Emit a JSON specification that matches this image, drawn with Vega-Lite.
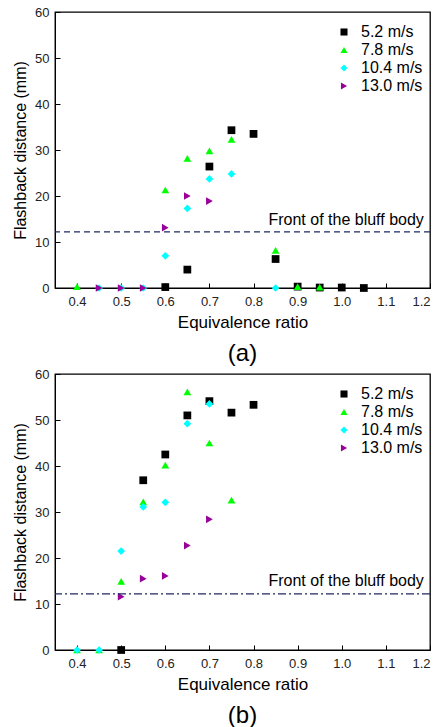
{
  "$schema": "https://vega.github.io/schema/vega-lite/v6.json",
  "padding": {"left": 11, "top": 5, "right": 5, "bottom": 0},
  "spacing": 0,
  "config": {
    "font": "Liberation Sans",
    "view": {"stroke": "black", "strokeWidth": 1.3},
    "axis": {"grid": false, "domainColor": "black", "tickColor": "black", "tickSize": -5, "labelColor": "#222", "titleColor": "black", "titleFontWeight": "normal", "labelFontSize": 13},
    "legend": {"orient": "none", "legendX": 281, "legendY": 12, "title": null, "padding": 0, "labelFontSize": 16, "labelOffset": 9, "rowPadding": 2, "symbolSize": 50, "labelColor": "black"}
  },
  "datasets": {
    "pts": [
      {"panel": "a", "speed": "5.2 m/s", "phi": 0.6, "d": 0.2},
      {"panel": "a", "speed": "5.2 m/s", "phi": 0.65, "d": 4.0},
      {"panel": "a", "speed": "5.2 m/s", "phi": 0.7, "d": 26.4},
      {"panel": "a", "speed": "5.2 m/s", "phi": 0.75, "d": 34.3},
      {"panel": "a", "speed": "5.2 m/s", "phi": 0.8, "d": 33.5},
      {"panel": "a", "speed": "5.2 m/s", "phi": 0.85, "d": 6.3},
      {"panel": "a", "speed": "5.2 m/s", "phi": 0.9, "d": 0.3},
      {"panel": "a", "speed": "5.2 m/s", "phi": 0.95, "d": 0.1},
      {"panel": "a", "speed": "5.2 m/s", "phi": 1.0, "d": 0.1},
      {"panel": "a", "speed": "5.2 m/s", "phi": 1.05, "d": 0},
      {"panel": "a", "speed": "7.8 m/s", "phi": 0.4, "d": 0.3},
      {"panel": "a", "speed": "7.8 m/s", "phi": 0.6, "d": 21.3},
      {"panel": "a", "speed": "7.8 m/s", "phi": 0.65, "d": 28.2},
      {"panel": "a", "speed": "7.8 m/s", "phi": 0.7, "d": 29.8},
      {"panel": "a", "speed": "7.8 m/s", "phi": 0.75, "d": 32.3},
      {"panel": "a", "speed": "7.8 m/s", "phi": 0.85, "d": 8.2},
      {"panel": "a", "speed": "7.8 m/s", "phi": 0.9, "d": 0.3},
      {"panel": "a", "speed": "7.8 m/s", "phi": 0.95, "d": 0.2},
      {"panel": "a", "speed": "10.4 m/s", "phi": 0.45, "d": 0},
      {"panel": "a", "speed": "10.4 m/s", "phi": 0.5, "d": 0},
      {"panel": "a", "speed": "10.4 m/s", "phi": 0.55, "d": 0},
      {"panel": "a", "speed": "10.4 m/s", "phi": 0.6, "d": 7.0},
      {"panel": "a", "speed": "10.4 m/s", "phi": 0.65, "d": 17.3},
      {"panel": "a", "speed": "10.4 m/s", "phi": 0.7, "d": 23.7},
      {"panel": "a", "speed": "10.4 m/s", "phi": 0.75, "d": 24.8},
      {"panel": "a", "speed": "10.4 m/s", "phi": 0.85, "d": 0},
      {"panel": "a", "speed": "13.0 m/s", "phi": 0.45, "d": 0},
      {"panel": "a", "speed": "13.0 m/s", "phi": 0.5, "d": 0},
      {"panel": "a", "speed": "13.0 m/s", "phi": 0.55, "d": 0},
      {"panel": "a", "speed": "13.0 m/s", "phi": 0.6, "d": 13.1},
      {"panel": "a", "speed": "13.0 m/s", "phi": 0.65, "d": 20.0},
      {"panel": "a", "speed": "13.0 m/s", "phi": 0.7, "d": 18.9},
      {"panel": "b", "speed": "5.2 m/s", "phi": 0.5, "d": 0},
      {"panel": "b", "speed": "5.2 m/s", "phi": 0.55, "d": 36.9},
      {"panel": "b", "speed": "5.2 m/s", "phi": 0.6, "d": 42.5},
      {"panel": "b", "speed": "5.2 m/s", "phi": 0.65, "d": 51.0},
      {"panel": "b", "speed": "5.2 m/s", "phi": 0.7, "d": 54.1},
      {"panel": "b", "speed": "5.2 m/s", "phi": 0.75, "d": 51.6},
      {"panel": "b", "speed": "5.2 m/s", "phi": 0.8, "d": 53.3},
      {"panel": "b", "speed": "7.8 m/s", "phi": 0.4, "d": 0},
      {"panel": "b", "speed": "7.8 m/s", "phi": 0.45, "d": 0},
      {"panel": "b", "speed": "7.8 m/s", "phi": 0.5, "d": 14.9},
      {"panel": "b", "speed": "7.8 m/s", "phi": 0.55, "d": 32.2},
      {"panel": "b", "speed": "7.8 m/s", "phi": 0.6, "d": 40.2},
      {"panel": "b", "speed": "7.8 m/s", "phi": 0.65, "d": 56.1},
      {"panel": "b", "speed": "7.8 m/s", "phi": 0.7, "d": 45.0},
      {"panel": "b", "speed": "7.8 m/s", "phi": 0.75, "d": 32.6},
      {"panel": "b", "speed": "10.4 m/s", "phi": 0.4, "d": 0},
      {"panel": "b", "speed": "10.4 m/s", "phi": 0.45, "d": 0},
      {"panel": "b", "speed": "10.4 m/s", "phi": 0.5, "d": 21.5},
      {"panel": "b", "speed": "10.4 m/s", "phi": 0.55, "d": 31.1},
      {"panel": "b", "speed": "10.4 m/s", "phi": 0.6, "d": 32.1},
      {"panel": "b", "speed": "10.4 m/s", "phi": 0.65, "d": 49.2},
      {"panel": "b", "speed": "10.4 m/s", "phi": 0.7, "d": 53.5},
      {"panel": "b", "speed": "13.0 m/s", "phi": 0.5, "d": 11.6},
      {"panel": "b", "speed": "13.0 m/s", "phi": 0.55, "d": 15.5},
      {"panel": "b", "speed": "13.0 m/s", "phi": 0.6, "d": 16.1},
      {"panel": "b", "speed": "13.0 m/s", "phi": 0.65, "d": 22.7},
      {"panel": "b", "speed": "13.0 m/s", "phi": 0.7, "d": 28.4}
    ],
    "refs": [
      {"panel": "a", "y": 12.2, "lx": 1.186, "ly": 14.8, "label": "Front of the bluff body"},
      {"panel": "b", "y": 12.2, "lx": 1.186, "ly": 15.1, "label": "Front of the bluff body"}
    ]
  },
  "resolve": {"legend": {"color": "independent", "shape": "independent"}},
  "vconcat": [
    {
      "width": 375, "height": 276,
      "title": {"text": "(a)", "orient": "bottom", "fontSize": 24, "fontWeight": "normal", "offset": 12, "color": "black"},
      "layer": [
        {
          "data": {"name": "pts"},
          "transform": [{"filter": "datum.panel === 'a'"}],
          "mark": {"type": "point", "filled": true, "size": 60, "opacity": 1},
          "encoding": {
            "x": {"field": "phi", "type": "quantitative", "title": "Equivalence  ratio",
              "scale": {"domain": [0.35, 1.2], "nice": false, "zero": false},
              "axis": {"values": [0.4,0.45,0.5,0.55,0.6,0.65,0.7,0.75,0.8,0.85,0.9,0.95,1.0,1.05,1.1,1.15,1.2], "labelExpr": "round(datum.value*100) % 10 === 0 ? format(datum.value, '.1f') : ''", "titleFontSize": 17, "labelPadding": 12, "titlePadding": 6}},
            "y": {"field": "d", "type": "quantitative", "title": "Flashback distance (mm)",
              "scale": {"domain": [0, 60], "nice": false},
              "axis": {"values": [0,5,10,15,20,25,30,35,40,45,50,55,60], "labelExpr": "datum.value % 10 === 0 ? datum.label : ''", "titleFontSize": 16, "labelPadding": 11, "titlePadding": 6}},
            "color": {"field": "speed", "type": "nominal", "scale": {"domain": ["5.2 m/s","7.8 m/s","10.4 m/s","13.0 m/s"], "range": ["#000000","#00ff00","#00ffff","#990099"]}},
            "shape": {"field": "speed", "type": "nominal", "scale": {"domain": ["5.2 m/s","7.8 m/s","10.4 m/s","13.0 m/s"], "range": ["square","triangle-up","diamond","triangle-right"]}}
          }
        },
        {
          "data": {"name": "refs"},
          "transform": [{"filter": "datum.panel === 'a'"}],
          "mark": {"type": "rule", "color": "#1c2761", "strokeDash": [6, 4], "strokeWidth": 1.3},
          "encoding": {"y": {"field": "y", "type": "quantitative"}}
        },
        {
          "data": {"name": "refs"},
          "transform": [{"filter": "datum.panel === 'a'"}],
          "mark": {"type": "text", "align": "right", "baseline": "middle", "fontSize": 16, "color": "black"},
          "encoding": {"x": {"field": "lx", "type": "quantitative"}, "y": {"field": "ly", "type": "quantitative"}, "text": {"field": "label"}}
        }
      ]
    },
    {
      "width": 375, "height": 276,
      "title": {"text": "(b)", "orient": "bottom", "fontSize": 24, "fontWeight": "normal", "offset": 12, "color": "black"},
      "layer": [
        {
          "data": {"name": "pts"},
          "transform": [{"filter": "datum.panel === 'b'"}],
          "mark": {"type": "point", "filled": true, "size": 60, "opacity": 1},
          "encoding": {
            "x": {"field": "phi", "type": "quantitative", "title": "Equivalence  ratio",
              "scale": {"domain": [0.35, 1.2], "nice": false, "zero": false},
              "axis": {"values": [0.4,0.45,0.5,0.55,0.6,0.65,0.7,0.75,0.8,0.85,0.9,0.95,1.0,1.05,1.1,1.15,1.2], "labelExpr": "round(datum.value*100) % 10 === 0 ? format(datum.value, '.1f') : ''", "titleFontSize": 17, "labelPadding": 12, "titlePadding": 6}},
            "y": {"field": "d", "type": "quantitative", "title": "Flashback distance (mm)",
              "scale": {"domain": [0, 60], "nice": false},
              "axis": {"values": [0,5,10,15,20,25,30,35,40,45,50,55,60], "labelExpr": "datum.value % 10 === 0 ? datum.label : ''", "titleFontSize": 16, "labelPadding": 11, "titlePadding": 6}},
            "color": {"field": "speed", "type": "nominal", "scale": {"domain": ["5.2 m/s","7.8 m/s","10.4 m/s","13.0 m/s"], "range": ["#000000","#00ff00","#00ffff","#990099"]}},
            "shape": {"field": "speed", "type": "nominal", "scale": {"domain": ["5.2 m/s","7.8 m/s","10.4 m/s","13.0 m/s"], "range": ["square","triangle-up","diamond","triangle-right"]}}
          }
        },
        {
          "data": {"name": "refs"},
          "transform": [{"filter": "datum.panel === 'b'"}],
          "mark": {"type": "rule", "color": "#1c2761", "strokeDash": [8, 3, 2, 3], "strokeWidth": 1.3},
          "encoding": {"y": {"field": "y", "type": "quantitative"}}
        },
        {
          "data": {"name": "refs"},
          "transform": [{"filter": "datum.panel === 'b'"}],
          "mark": {"type": "text", "align": "right", "baseline": "middle", "fontSize": 16, "color": "black"},
          "encoding": {"x": {"field": "lx", "type": "quantitative"}, "y": {"field": "ly", "type": "quantitative"}, "text": {"field": "label"}}
        }
      ]
    }
  ]
}
